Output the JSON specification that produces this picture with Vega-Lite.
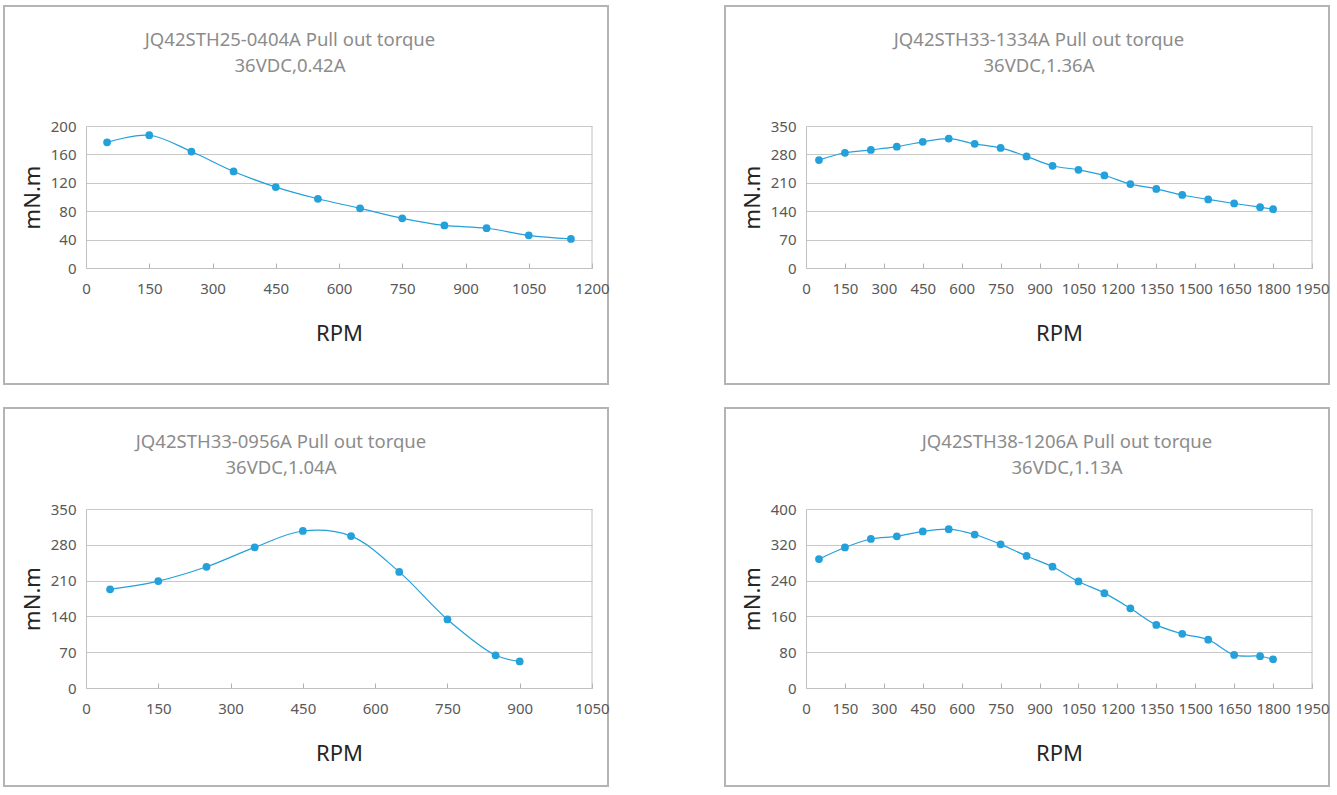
{
  "$schema": "https://vega.github.io/schema/vega-lite/v6.json",
  "background": "white",
  "padding": {"left": 3, "top": 5, "right": 0, "bottom": 0},
  "datasets": {
    "p1": [
      {"rpm": 50, "torque": 177}, {"rpm": 150, "torque": 187}, {"rpm": 250, "torque": 164},
      {"rpm": 350, "torque": 136}, {"rpm": 450, "torque": 114}, {"rpm": 550, "torque": 97.5},
      {"rpm": 650, "torque": 84}, {"rpm": 750, "torque": 70}, {"rpm": 850, "torque": 60},
      {"rpm": 950, "torque": 56}, {"rpm": 1050, "torque": 46}, {"rpm": 1150, "torque": 41}
    ],
    "p2": [
      {"rpm": 50, "torque": 266}, {"rpm": 150, "torque": 284}, {"rpm": 250, "torque": 291},
      {"rpm": 350, "torque": 299}, {"rpm": 450, "torque": 311}, {"rpm": 550, "torque": 319},
      {"rpm": 650, "torque": 306}, {"rpm": 750, "torque": 296}, {"rpm": 850, "torque": 275},
      {"rpm": 950, "torque": 252}, {"rpm": 1050, "torque": 242}, {"rpm": 1150, "torque": 228},
      {"rpm": 1250, "torque": 207}, {"rpm": 1350, "torque": 195}, {"rpm": 1450, "torque": 180},
      {"rpm": 1550, "torque": 169}, {"rpm": 1650, "torque": 159}, {"rpm": 1750, "torque": 150},
      {"rpm": 1800, "torque": 145}
    ],
    "p3": [
      {"rpm": 50, "torque": 193}, {"rpm": 150, "torque": 209}, {"rpm": 250, "torque": 237},
      {"rpm": 350, "torque": 275}, {"rpm": 450, "torque": 307}, {"rpm": 550, "torque": 297},
      {"rpm": 650, "torque": 227}, {"rpm": 750, "torque": 134}, {"rpm": 850, "torque": 64},
      {"rpm": 900, "torque": 52}
    ],
    "p4": [
      {"rpm": 50, "torque": 288}, {"rpm": 150, "torque": 314}, {"rpm": 250, "torque": 333},
      {"rpm": 350, "torque": 339}, {"rpm": 450, "torque": 350}, {"rpm": 550, "torque": 355},
      {"rpm": 650, "torque": 343}, {"rpm": 750, "torque": 321}, {"rpm": 850, "torque": 295},
      {"rpm": 950, "torque": 271}, {"rpm": 1050, "torque": 238}, {"rpm": 1150, "torque": 212},
      {"rpm": 1250, "torque": 178}, {"rpm": 1350, "torque": 141}, {"rpm": 1450, "torque": 121},
      {"rpm": 1550, "torque": 108}, {"rpm": 1650, "torque": 74}, {"rpm": 1750, "torque": 71},
      {"rpm": 1800, "torque": 64}
    ]
  },
  "columns": 2,
  "spacing": {"row": 24, "column": 117},
  "bounds": "flush",
  "concat": [
    {
      "width": 604, "height": 378,
      "title": {"text": ["JQ42STH25-0404A Pull out torque", "36VDC,0.42A"], "offset": -69, "dx": -16},
      "layer": [
        {
          "data": {"name": "p1"},
          "mark": {"type": "line", "interpolate": "catmull-rom", "color": "#24a0da", "strokeWidth": 1.2,
                   "point": {"filled": true, "size": 60, "color": "#24a0da", "opacity": 1}},
          "encoding": {
            "x": {"field": "rpm", "type": "quantitative", "title": "RPM",
                  "scale": {"domain": [0, 1200], "range": [82, 588], "nice": false, "zero": false},
                  "axis": {"values": [0, 150, 300, 450, 600, 750, 900, 1050, 1200], "offset": -116}},
            "y": {"field": "torque", "type": "quantitative", "title": "mN.m",
                  "scale": {"domain": [0, 200], "range": [262, 120], "nice": false},
                  "axis": {"values": [0, 40, 80, 120, 160, 200], "offset": -82}}
          }
        },
        {
          "data": {"values": [{}]},
          "mark": {"type": "rule", "color": "#c0c0c0", "strokeWidth": 1},
          "encoding": {"x": {"datum": 1200}, "y": {"datum": 0}, "y2": {"datum": 200}}
        }
      ]
    },
    {
      "width": 604, "height": 378,
      "title": {"text": ["JQ42STH33-1334A Pull out torque", "36VDC,1.36A"], "offset": -69, "dx": 12},
      "layer": [
        {
          "data": {"name": "p2"},
          "mark": {"type": "line", "interpolate": "catmull-rom", "color": "#24a0da", "strokeWidth": 1.2,
                   "point": {"filled": true, "size": 60, "color": "#24a0da", "opacity": 1}},
          "encoding": {
            "x": {"field": "rpm", "type": "quantitative", "title": "RPM",
                  "scale": {"domain": [0, 1950], "range": [81, 587], "nice": false, "zero": false},
                  "axis": {"values": [0, 150, 300, 450, 600, 750, 900, 1050, 1200, 1350, 1500, 1650, 1800, 1950], "offset": -116}},
            "y": {"field": "torque", "type": "quantitative", "title": "mN.m",
                  "scale": {"domain": [0, 350], "range": [262, 120], "nice": false},
                  "axis": {"values": [0, 70, 140, 210, 280, 350], "offset": -81}}
          }
        },
        {
          "data": {"values": [{}]},
          "mark": {"type": "rule", "color": "#c0c0c0", "strokeWidth": 1},
          "encoding": {"x": {"datum": 1950}, "y": {"datum": 0}, "y2": {"datum": 350}}
        }
      ]
    },
    {
      "width": 604, "height": 378,
      "title": {"text": ["JQ42STH33-0956A Pull out torque", "36VDC,1.04A"], "offset": -69, "dx": -25},
      "layer": [
        {
          "data": {"name": "p3"},
          "mark": {"type": "line", "interpolate": "catmull-rom", "color": "#24a0da", "strokeWidth": 1.2,
                   "point": {"filled": true, "size": 60, "color": "#24a0da", "opacity": 1}},
          "encoding": {
            "x": {"field": "rpm", "type": "quantitative", "title": "RPM",
                  "scale": {"domain": [0, 1050], "range": [82, 588], "nice": false, "zero": false},
                  "axis": {"values": [0, 150, 300, 450, 600, 750, 900, 1050], "offset": -98}},
            "y": {"field": "torque", "type": "quantitative", "title": "mN.m",
                  "scale": {"domain": [0, 350], "range": [280, 101], "nice": false},
                  "axis": {"values": [0, 70, 140, 210, 280, 350], "offset": -82}}
          }
        },
        {
          "data": {"values": [{}]},
          "mark": {"type": "rule", "color": "#c0c0c0", "strokeWidth": 1},
          "encoding": {"x": {"datum": 1050}, "y": {"datum": 0}, "y2": {"datum": 350}}
        }
      ]
    },
    {
      "width": 604, "height": 378,
      "title": {"text": ["JQ42STH38-1206A Pull out torque", "36VDC,1.13A"], "offset": -69, "dx": 40},
      "layer": [
        {
          "data": {"name": "p4"},
          "mark": {"type": "line", "interpolate": "catmull-rom", "color": "#24a0da", "strokeWidth": 1.2,
                   "point": {"filled": true, "size": 60, "color": "#24a0da", "opacity": 1}},
          "encoding": {
            "x": {"field": "rpm", "type": "quantitative", "title": "RPM",
                  "scale": {"domain": [0, 1950], "range": [81, 587], "nice": false, "zero": false},
                  "axis": {"values": [0, 150, 300, 450, 600, 750, 900, 1050, 1200, 1350, 1500, 1650, 1800, 1950], "offset": -98}},
            "y": {"field": "torque", "type": "quantitative", "title": "mN.m",
                  "scale": {"domain": [0, 400], "range": [280, 101], "nice": false},
                  "axis": {"values": [0, 80, 160, 240, 320, 400], "offset": -81}}
          }
        },
        {
          "data": {"values": [{}]},
          "mark": {"type": "rule", "color": "#c0c0c0", "strokeWidth": 1},
          "encoding": {"x": {"datum": 1950}, "y": {"datum": 0}, "y2": {"datum": 400}}
        }
      ]
    }
  ],
  "config": {
    "font": "Noto Sans",
    "view": {"stroke": "#b4b4b4", "strokeWidth": 2},
    "title": {"font": "Noto Sans", "fontSize": 18.5, "fontWeight": "normal", "color": "#8c8c8c",
              "anchor": "middle", "frame": "group", "lineHeight": 26},
    "axis": {
      "format": "d",
      "labelFont": "Noto Sans", "labelFontSize": 15, "labelColor": "#595959",
      "labelFlush": false, "labelOverlap": false,
      "domainColor": "#c0c0c0", "domainWidth": 1,
      "gridColor": "#c8c8c8", "gridWidth": 1,
      "tickColor": "#b0b0b0", "tickWidth": 1,
      "titleFont": "Noto Sans", "titleFontSize": 22, "titleFontWeight": "normal", "titleColor": "#262626"
    },
    "axisX": {"grid": false, "ticks": true, "tickSize": -5, "labelPadding": 18, "titlePadding": 27},
    "axisY": {"grid": true, "ticks": false, "labelPadding": 10, "titlePadding": 6}
  }
}
